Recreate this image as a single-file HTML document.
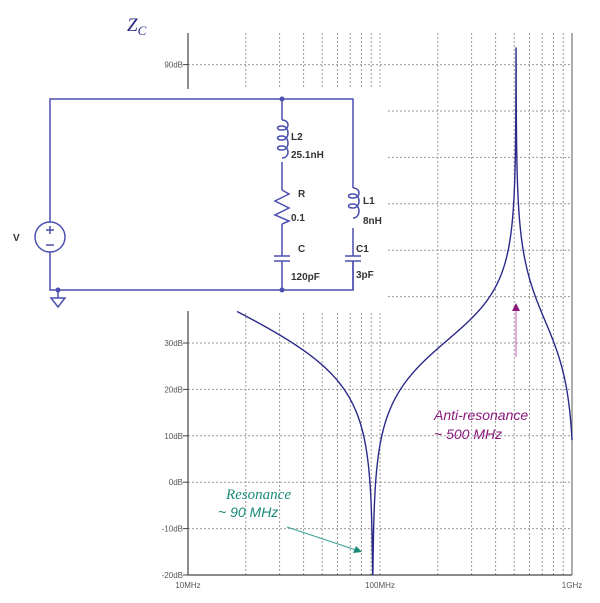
<!DOCTYPE html>
<html><head><meta charset="utf-8">
<style>
html,body{margin:0;padding:0;background:#fff;}
svg{display:block;}
.ax{font-family:"Liberation Sans",sans-serif;font-size:8px;fill:#555;}
.cl{font-family:"Liberation Sans",sans-serif;font-size:10px;font-weight:bold;fill:#333;}
</style></head><body>
<svg id="s" width="600" height="603" viewBox="0 0 600 603" xmlns="http://www.w3.org/2000/svg">
<g id="grid" stroke="#999" stroke-width="1" stroke-dasharray="2,2" fill="none"></g>
<rect x="0" y="89" width="388" height="222" fill="#fff"/>
<line x1="188" y1="33" x2="188" y2="89" stroke="#444" stroke-width="1.2"/>
<line x1="188" y1="311" x2="188" y2="575" stroke="#444" stroke-width="1.2"/>
<line x1="572" y1="33" x2="572" y2="575" stroke="#777" stroke-width="1.2"/>
<line x1="188" y1="575" x2="572" y2="575" stroke="#444" stroke-width="1.2"/>
<g id="labels"></g>
<path id="curve" d="" stroke="#2a2a8a" stroke-width="1.4" fill="none"/>
<text x="127" y="31" font-family="Liberation Serif,serif" font-style="italic" font-size="19" fill="#2a2a8a">Z<tspan font-size="13" dy="4">C</tspan></text>
<!-- circuit -->
<g stroke="#4a4fb0" stroke-width="1.5" fill="none">
<polyline points="50,222 50,99 353,99 353,188"/>
<polyline points="50,252 50,290 353,290 353,262"/>
<line x1="282" y1="99" x2="282" y2="120"/>
<path d="M282,120 c8,0 8,10 0,10 c-6,0 -6,-4 0,-4 c8,0 8,14 0,14 c-6,0 -6,-4 0,-4 c8,0 8,14 0,14 c-6,0 -6,-4 0,-4 c8,0 8,12 0,12"/>
<line x1="282" y1="162" x2="282" y2="190"/>
<polyline points="282,190 289,194 275,201 289,208 275,215 289,221 282,224"/>
<line x1="282" y1="224" x2="282" y2="256"/>
<line x1="274" y1="256" x2="290" y2="256"/>
<line x1="274" y1="261" x2="290" y2="261"/>
<line x1="282" y1="261" x2="282" y2="290"/>
<path d="M353,188 c8,0 8,10 0,10 c-6,0 -6,-4 0,-4 c8,0 8,14 0,14 c-6,0 -6,-4 0,-4 c8,0 8,14 0,14"/>
<line x1="353" y1="228" x2="353" y2="256"/>
<line x1="345" y1="256" x2="361" y2="256"/>
<line x1="345" y1="261" x2="361" y2="261"/>
<line x1="353" y1="261" x2="353" y2="290"/>
<circle cx="50" cy="237" r="15"/>
<line x1="50" y1="226" x2="50" y2="234"/><line x1="46" y1="230" x2="54" y2="230"/>
<line x1="46" y1="245" x2="54" y2="245"/>
<line x1="58" y1="290" x2="58" y2="298"/>
<polygon points="51,298 65,298 58,307"/>
</g>
<g fill="#4a4fb0"><circle cx="282" cy="99" r="2.5"/><circle cx="282" cy="290" r="2.5"/><circle cx="58" cy="290" r="2.5"/></g>
<text class="cl" x="291" y="140">L2</text>
<text class="cl" x="291" y="158">25.1nH</text>
<text class="cl" x="298" y="197">R</text>
<text class="cl" x="291" y="221">0.1</text>
<text class="cl" x="298" y="252">C</text>
<text class="cl" x="291" y="280">120pF</text>
<text class="cl" x="363" y="204">L1</text>
<text class="cl" x="363" y="224">8nH</text>
<text class="cl" x="356" y="252">C1</text>
<text class="cl" x="356" y="278">3pF</text>
<text class="cl" x="13" y="241">V</text>
<!-- annotations -->
<text x="434" y="420" font-family="Liberation Sans,sans-serif" font-style="italic" font-size="14" fill="#8b1a7f">Anti-resonance</text>
<text x="434" y="439" font-family="Liberation Sans,sans-serif" font-style="italic" font-size="14" fill="#8b1a7f">~ 500 MHz</text>
<line x1="516" y1="357" x2="516" y2="310" stroke="#c060b0" stroke-width="1"/>
<polygon points="516,303 512,311 520,311" fill="#8b1a7f"/>
<text x="226" y="499" font-family="Liberation Serif,serif" font-style="italic" font-size="15" fill="#1a8a7a">Resonance</text>
<text x="218" y="517" font-family="Liberation Sans,sans-serif" font-style="italic" font-size="14" fill="#1a8a7a">~ 90 MHz</text>
<line x1="287" y1="527" x2="356" y2="550" stroke="#3aa090" stroke-width="1"/>
<polygon points="362,552 353,553 356,546" fill="#1a8a7a"/>
</svg>
<script>
(function(){
var ns="http://www.w3.org/2000/svg";
function X(f){return 188+192*Math.log10(f/10);}
function Y(db){return 575-(db+20)*4.64;}
var g=document.getElementById('grid'),lb=document.getElementById('labels');
var fs=[20,30,40,50,60,70,80,90,100,200,300,400,500,600,700,800,900];
fs.forEach(function(f){var l=document.createElementNS(ns,'line');var x=X(f);
l.setAttribute('x1',x);l.setAttribute('x2',x);l.setAttribute('y1',33);l.setAttribute('y2',575);g.appendChild(l);});
for(var d=-10;d<=90;d+=10){var l=document.createElementNS(ns,'line');var y=Y(d);
l.setAttribute('x1',188);l.setAttribute('x2',572);l.setAttribute('y1',y);l.setAttribute('y2',y);g.appendChild(l);}
[-20,-10,0,10,20,30,90].forEach(function(d){var t=document.createElementNS(ns,'text');t.setAttribute('class','ax');
t.setAttribute('x',183);t.setAttribute('y',Y(d)+3);t.setAttribute('text-anchor','end');t.textContent=d+'dB';lb.appendChild(t);
var l=document.createElementNS(ns,'line');l.setAttribute('x1',183);l.setAttribute('x2',188);l.setAttribute('y1',Y(d));l.setAttribute('y2',Y(d));l.setAttribute('stroke','#444');lb.appendChild(l);});
[['10MHz',188],['100MHz',380],['1GHz',572]].forEach(function(a){var t=document.createElementNS(ns,'text');t.setAttribute('class','ax');
t.setAttribute('x',a[1]);t.setAttribute('y',588);t.setAttribute('text-anchor','middle');t.textContent=a[0];lb.appendChild(t);});
function Z(f){var w=2*Math.PI*f*1e6;
var a1=0.1,b1=w*25.1e-9-1/(w*120e-12);var a2=0.02,b2=w*8e-9-1/(w*3e-12);
var nr=a1*a2-b1*b2,ni=a1*b2+a2*b1;var dr=a1+a2,di=b1+b2;
var m=Math.sqrt(nr*nr+ni*ni)/Math.sqrt(dr*dr+di*di);return 20*Math.log10(m);}
var d='';var N=3000;
for(var i=0;i<=N;i++){var lx=Math.log10(18)+(3-Math.log10(18))*i/N;var f=Math.pow(10,lx);
var y=Y(Z(f));if(y<40)y=40;if(y>575)y=575;d+=(i?'L':'M')+X(f).toFixed(2)+','+y.toFixed(2);}
// ensure exact points near resonance dips
document.getElementById('curve').setAttribute('d',d);
})();
</script>
</body></html>
